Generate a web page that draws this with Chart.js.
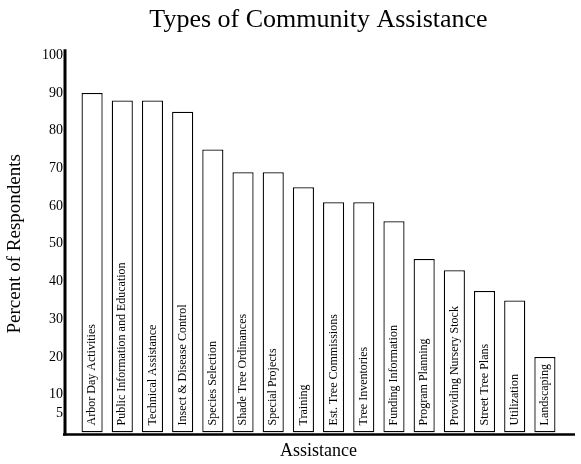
<!DOCTYPE html>
<html>
<head>
<meta charset="utf-8">
<script src="https://cdn.jsdelivr.net/npm/chart.js@4.4.0/dist/chart.umd.min.js"></script>
<style>
html,body{margin:0;padding:0;background:#fff;}
#wrap{width:581px;height:464px;}
</style>
</head>
<body>
<div id="wrap"><canvas id="c"></canvas></div>
<script>
const categories = ["Arbor Day Activities","Public Information and Education","Technical Assistance","Insect & Disease Control","Species Selection","Shade Tree Ordinances","Special Projects","Training","Est. Tree Commissions","Tree Inventories","Funding Information","Program Planning","Providing Nursery Stock","Street Tree Plans","Utilization","Landscaping"];
const percentValues = [90, 88, 88, 85, 75, 69, 69, 65, 61, 61, 56, 46, 43, 37.5, 35, 20];
const yTickValues = [5, 10, 20, 30, 40, 50, 60, 70, 80, 90, 100];

const SERIF = "'Liberation Serif', 'DejaVu Serif', serif";

const axisLines = {
  id: 'axisLines',
  afterDatasetsDraw(chart) {
    const {ctx, chartArea} = chart;
    const y0 = chart.scales.y.getPixelForValue(0);
    ctx.save();
    ctx.strokeStyle = '#000';
    ctx.lineWidth = 3;
    ctx.beginPath();
    ctx.moveTo(chartArea.left - 12, chartArea.top - 6);
    ctx.lineTo(chartArea.left - 12, y0 + 3);
    ctx.stroke();
    ctx.lineWidth = 2.5;
    ctx.beginPath();
    ctx.moveTo(chartArea.left - 14, y0 + 2);
    ctx.lineTo(chartArea.right + 15, y0 + 2);
    ctx.stroke();
    ctx.restore();
  }
};

const barLabels = {
  id: 'barLabels',
  afterDatasetsDraw(chart) {
    const {ctx} = chart;
    const meta = chart.getDatasetMeta(0);
    ctx.save();
    ctx.fillStyle = '#000';
    ctx.font = "12px " + SERIF;
    ctx.textAlign = 'left';
    ctx.textBaseline = 'middle';
    meta.data.forEach((bar, i) => {
      ctx.save();
      ctx.translate(bar.x, bar.base - 7);
      ctx.rotate(-Math.PI / 2);
      ctx.fillText(chart.data.labels[i], 0, 0);
      ctx.restore();
    });
    ctx.restore();
  }
};

new Chart(document.getElementById('c'), {
  type: 'bar',
  data: {
    labels: categories,
    datasets: [{
      data: percentValues,
      backgroundColor: '#fff',
      borderColor: '#000',
      borderWidth: 1.3,
      borderSkipped: false,
      barPercentage: 0.7,
      categoryPercentage: 1.0
    }]
  },
  options: {
    responsive: true,
    maintainAspectRatio: false,
    animation: false,
    devicePixelRatio: 1,
    layout: {padding: {left: 0, right: 21, top: 4, bottom: 0}},
    plugins: {
      legend: {display: false},
      tooltip: {enabled: false},
      title: {
        display: true,
        text: 'Types of Community Assistance',
        fullSize: false,
        color: '#000',
        font: {family: SERIF, size: 26, weight: 'normal'},
        padding: {top: 1, bottom: 19}
      }
    },
    scales: {
      x: {
        grid: {display: false, drawTicks: false},
        border: {display: false},
        ticks: {display: false},
        title: {
          display: true,
          text: 'Assistance',
          color: '#000',
          font: {family: SERIF, size: 18},
          padding: {top: 8, bottom: 2}
        }
      },
      y: {
        min: 0,
        max: 100,
        afterBuildTicks(scale) {
          scale.ticks = yTickValues.map(v => ({value: v}));
        },
        afterFit(scale) { scale.width = 77; },
        grid: {display: false, drawTicks: false},
        border: {display: false},
        ticks: {
          color: '#000',
          font: {family: SERIF, size: 14},
          padding: 14,
          autoSkip: false
        },
        title: {
          display: true,
          text: 'Percent of Respondents',
          color: '#000',
          font: {family: SERIF, size: 19},
          padding: {top: 4, bottom: 0}
        }
      }
    }
  },
  plugins: [axisLines, barLabels]
});
</script>
</body>
</html>
